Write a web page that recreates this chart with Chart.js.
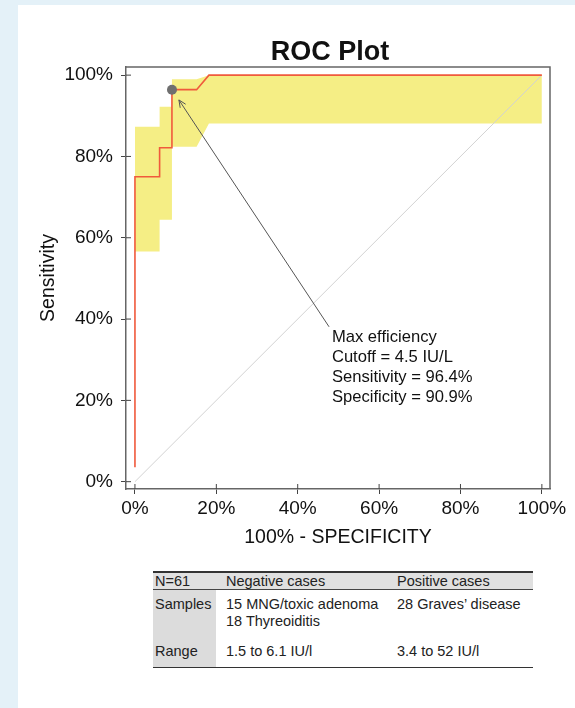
<!DOCTYPE html>
<html>
<head>
<meta charset="utf-8">
<script src="https://cdn.jsdelivr.net/npm/chart.js@4.4.1/dist/chart.umd.min.js"></script>
<style>
  html, body { margin: 0; padding: 0; width: 575px; height: 708px; overflow: hidden;
    background: #e4f1f8; font-family: "Liberation Sans", Arial, sans-serif; }
  #panel { position: absolute; left: 18px; top: 5px; right: 0; bottom: 0; background: #fff; }
  #wrap { position: absolute; left: 0; top: 0; width: 575px; height: 560px; }
  #stats { position: absolute; left: 153px; top: 571px; width: 380px; border-collapse: collapse;
    font-size: 14.5px; color: #222; line-height: 17px; }
  #stats th, #stats td { text-align: left; font-weight: normal; vertical-align: top; padding: 0; }
  #stats thead tr { background: #e0e0e0; border-top: 2px solid #333; border-bottom: 1.5px solid #444; }
  #stats thead th { height: 15px; line-height: 15px; padding-top: 1px; }
  #stats tbody tr:last-child { border-bottom: 1.5px solid #333; }
  #stats tbody td:first-child { background: #dcdcdc; }
  #stats .c0 { width: 61px; padding-left: 2px; }
  #stats .c1 { width: 164px; padding-left: 10px; }
  #stats .c2 { padding-left: 7px; }
  #stats tbody tr.r0 td { padding-top: 6px; height: 40px; }
  #stats tbody tr.r1 td { padding-top: 7px; height: 24px; }
</style>
</head>
<body>
<div id="panel"></div>
<div id="wrap"><canvas id="roc" width="575" height="560"></canvas></div>
<table id="stats"><thead></thead><tbody></tbody></table>

<script>
// ROC curve: false positive rate (100% - specificity) vs sensitivity, in percent
const rocFpr  = [0, 0, 6.06, 6.06, 9.09, 9.09, 15.15, 18.18, 100];
const rocSens = [3.57, 75, 75, 82.14, 82.14, 96.43, 96.43, 100, 100];

// Confidence band around the curve
const bandFpr   = [0, 6.06, 6.06, 9.09, 9.09, 15.15, 18.18, 100];
const bandUpper = [87.3, 87.3, 92.2, 92.2, 99.0, 99.0, 100, 100];
const bandLower = [56.6, 56.6, 64.4, 64.4, 82.4, 82.4, 88.1, 88.1];

// Reference (chance) diagonal
const diagFpr  = [0, 100];
const diagSens = [0, 100];

// Axis ticks
const tickValues = [0, 20, 40, 60, 80, 100];

// Optimal operating point
const maxEff = { cutoff: 4.5, unit: 'IU/L', sensitivity: 96.4, specificity: 90.9 };

// Annotation placement in data units
const noteAnchor = [48.4, 35.4];
const arrowTail  = [47.7, 38.1];
const arrowHead  = [10.8, 93.9];

// Summary table
const tableHead = ['N=61', 'Negative cases', 'Positive cases'];
const tableRows = [
  ['Samples', ['15 MNG/toxic adenoma', '18 Thyreoiditis'], ['28 Graves\u2019 disease']],
  ['Range', ['1.5 to 6.1 IU/l'], ['3.4 to 52 IU/l']]
];

const FONT = '"Liberation Sans", Arial, sans-serif';
const xy = (xs, ys) => xs.map((x, i) => ({ x: x, y: ys[i] }));

// Build the table
(function () {
  const thead = document.querySelector('#stats thead');
  const tbody = document.querySelector('#stats tbody');
  const hr = document.createElement('tr');
  tableHead.forEach((t, i) => {
    const th = document.createElement('th');
    th.className = 'c' + i;
    th.textContent = t;
    hr.appendChild(th);
  });
  thead.appendChild(hr);
  tableRows.forEach((row, r) => {
    const tr = document.createElement('tr');
    tr.className = 'r' + r;
    row.forEach((cell, i) => {
      const td = document.createElement('td');
      td.className = 'c' + i;
      (Array.isArray(cell) ? cell : [cell]).forEach((line, k) => {
        if (k) td.appendChild(document.createElement('br'));
        td.appendChild(document.createTextNode(line));
      });
      tr.appendChild(td);
    });
    tbody.appendChild(tr);
  });
})();

// Frame, inward tick marks, title and annotation
const decorations = {
  id: 'decorations',
  afterDraw(chart) {
    const { ctx, chartArea: a, scales: { x, y } } = chart;
    ctx.save();
    // box around the plot
    ctx.strokeStyle = '#666';
    ctx.lineWidth = 1.5;
    ctx.beginPath();
    ctx.moveTo(a.left, a.top); ctx.lineTo(a.right, a.top); ctx.lineTo(a.right, a.bottom);
    ctx.stroke();
    // inner halves of the tick marks
    ctx.lineWidth = 1;
    ctx.strokeStyle = '#444';
    ctx.beginPath();
    tickValues.forEach(v => {
      const px = x.getPixelForValue(v), py = y.getPixelForValue(v);
      ctx.moveTo(px, a.bottom); ctx.lineTo(px, a.bottom - 5);
      ctx.moveTo(a.left, py); ctx.lineTo(a.left + 5, py);
    });
    ctx.stroke();

    // title
    ctx.fillStyle = '#111';
    ctx.font = 'bold 27px ' + FONT;
    ctx.textAlign = 'center';
    ctx.textBaseline = 'alphabetic';
    ctx.fillText('ROC Plot', (a.left + a.right) / 2 - 8, 60);

    // annotation text
    const lines = [
      'Max efficiency',
      'Cutoff = ' + maxEff.cutoff + ' ' + maxEff.unit,
      'Sensitivity = ' + maxEff.sensitivity.toFixed(1) + '%',
      'Specificity = ' + maxEff.specificity.toFixed(1) + '%'
    ];
    ctx.font = '16.6px ' + FONT;
    ctx.textAlign = 'left';
    ctx.textBaseline = 'middle';
    ctx.fillStyle = '#111';
    const tx = x.getPixelForValue(noteAnchor[0]);
    const ty = y.getPixelForValue(noteAnchor[1]);
    lines.forEach((t, i) => ctx.fillText(t, tx, ty + i * 19.8));

    // arrow to the optimal point
    const x0 = x.getPixelForValue(arrowTail[0]), y0 = y.getPixelForValue(arrowTail[1]);
    const x1 = x.getPixelForValue(arrowHead[0]), y1 = y.getPixelForValue(arrowHead[1]);
    const ang = Math.atan2(y1 - y0, x1 - x0);
    ctx.strokeStyle = '#555';
    ctx.lineWidth = 1;
    ctx.beginPath();
    ctx.moveTo(x0, y0); ctx.lineTo(x1, y1);
    [0.42, -0.42].forEach(d => {
      ctx.moveTo(x1, y1);
      ctx.lineTo(x1 - 8 * Math.cos(ang + d), y1 - 8 * Math.sin(ang + d));
    });
    ctx.stroke();
    ctx.restore();
  }
};

const pct = v => v + '%';

new Chart(document.getElementById('roc'), {
  type: 'scatter',
  data: {
    datasets: [
      { // optimal operating point
        data: [{ x: 100 - maxEff.specificity, y: maxEff.sensitivity }],
        pointRadius: 5, pointBackgroundColor: '#6f6f6f', pointBorderWidth: 0, showLine: false
      },
      { // ROC curve
        data: xy(rocFpr, rocSens), showLine: true, borderColor: '#f05a3c', borderWidth: 1.6,
        pointRadius: 0, fill: false, tension: 0
      },
      { // chance diagonal
        data: xy(diagFpr, diagSens), showLine: true, borderColor: '#d2d2d2', borderWidth: 1,
        pointRadius: 0, fill: false
      },
      { // upper confidence bound
        data: xy(bandFpr, bandUpper), showLine: true, borderWidth: 0, borderColor: 'rgba(0,0,0,0)',
        pointRadius: 0, fill: '+1', backgroundColor: '#f5ee85'
      },
      { // lower confidence bound
        data: xy(bandFpr, bandLower), showLine: true, borderWidth: 0, borderColor: 'rgba(0,0,0,0)',
        pointRadius: 0, fill: false
      }
    ]
  },
  options: {
    responsive: false,
    animation: false,
    devicePixelRatio: 1,
    layout: { padding: { left: 0, right: 25, top: 67, bottom: 11 } },
    plugins: { legend: { display: false }, tooltip: { enabled: false }, title: { display: false } },
    events: [],
    scales: {
      x: {
        type: 'linear', min: -2.2, max: 102,
        afterBuildTicks: s => { s.ticks = tickValues.map(v => ({ value: v })); },
        afterFit: s => { s.height = 60; s.paddingLeft = 0; s.paddingRight = 0; },
        ticks: { callback: pct, color: '#111', font: { family: FONT, size: 19 }, padding: 3, maxRotation: 0, autoSkip: false },
        grid: { drawOnChartArea: false, drawTicks: true, tickLength: 5, tickColor: '#444', tickWidth: 1 },
        border: { display: true, color: '#666', width: 1.5 },
        title: { display: true, text: '100% - SPECIFICITY', color: '#111',
                 font: { family: FONT, size: 19.5 }, padding: { top: 0, bottom: 0 } }
      },
      y: {
        type: 'linear', min: -1.8, max: 102,
        afterBuildTicks: s => { s.ticks = tickValues.map(v => ({ value: v })); },
        afterFit: s => { s.width = 126; s.paddingTop = 0; s.paddingBottom = 0; },
        ticks: { callback: pct, color: '#111', font: { family: FONT, size: 19 }, padding: 8, autoSkip: false },
        grid: { drawOnChartArea: false, drawTicks: true, tickLength: 5, tickColor: '#444', tickWidth: 1 },
        border: { display: true, color: '#666', width: 1.5 },
        title: { display: true, text: 'Sensitivity', color: '#111',
                 font: { family: FONT, size: 19.5 }, padding: { top: 37, bottom: 0 } }
      }
    }
  },
  plugins: [decorations]
});
</script>
</body>
</html>
